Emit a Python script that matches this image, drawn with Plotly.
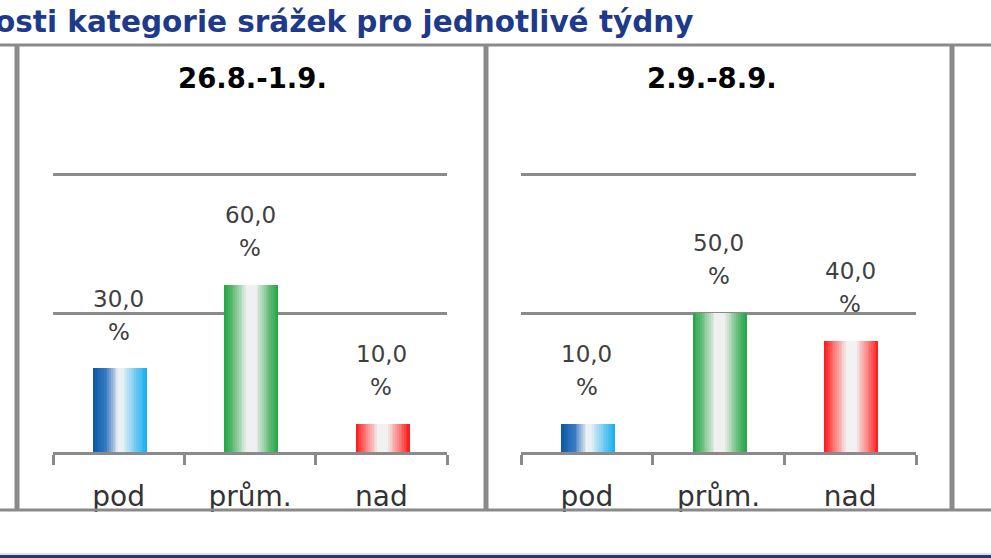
import plotly.graph_objects as go

W, H = 991, 558

# data
nadpis = "osti kategorie srážek pro jednotlivé týdny"
tydny = ["26.8.-1.9.", "2.9.-8.9."]
kategorie = ["pod", "prům.", "nad"]
hodnoty_1 = [30.0, 60.0, 10.0]
hodnoty_2 = [10.0, 50.0, 40.0]

# excel-like gradient stops per category (left edge -> right edge)
prechody = {
    "pod": [(0, "#0c56a6"), (0.25, "#3a7cc2"), (0.47, "#eef1f4"),
            (0.56, "#e4eff6"), (0.8, "#69c8f0"), (1, "#12afef")],
    "prům.": [(0, "#1fa548"), (0.15, "#5cb971"), (0.42, "#f0f0f0"),
              (0.58, "#f0f0f0"), (0.85, "#5cb971"), (1, "#1fa548")],
    "nad": [(0, "#ff1616"), (0.15, "#ff6868"), (0.42, "#f2f2f2"),
            (0.58, "#f2f2f2"), (0.85, "#ff6868"), (1, "#ff1616")],
}

GRAY = "#8a8a8a"
FONT = "DejaVu Sans"


def px(x):
    return x / W


def py(y):
    return 1 - y / H


def hex2rgb(h):
    return tuple(int(h[i:i + 2], 16) for i in (1, 3, 5))


def barva(stops, t):
    for (t0, c0), (t1, c1) in zip(stops, stops[1:]):
        if t0 <= t <= t1:
            f = (t - t0) / (t1 - t0) if t1 > t0 else 0
            a, b = hex2rgb(c0), hex2rgb(c1)
            r = [round(a[k] + (b[k] - a[k]) * f) for k in range(3)]
            return "rgb(%d,%d,%d)" % tuple(r)
    return stops[-1][1]


def cislo(v):
    return f"{v:.1f}".replace(".", ",")


fig = go.Figure()

BW = 0.41
N = 30
panely = [(hodnoty_1, "x", "y"), (hodnoty_2, "x2", "y2")]
for hodnoty, xa, ya in panely:
    for i in range(N):
        t = (i + 0.5) / N
        # slices overlap a bit to avoid seams, the last one ends on the edge
        sirka = BW / N * (1.5 if i < N - 1 else 1.0)
        fig.add_trace(go.Bar(
            x=kategorie, y=hodnoty, xaxis=xa, yaxis=ya,
            width=sirka, offset=-BW / 2 + i * BW / N + 0.01,
            marker=dict(color=[barva(prechody[k], t) for k in kategorie],
                        line=dict(width=0)),
            hoverinfo="skip", showlegend=False,
        ))
    for k, v in zip(kategorie, hodnoty):
        fig.add_annotation(x=k, y=v, xref=xa, yref=ya, text=cislo(v),
                           showarrow=False, yshift=70,
                           font=dict(family=FONT, size=23, color="#404040"))
        fig.add_annotation(x=k, y=v, xref=xa, yref=ya, text="%",
                           showarrow=False, yshift=37,
                           font=dict(family=FONT, size=23, color="#404040"))

# 0 at y=452 px, 100 at y=174 px; range a bit above 100 so the top grid shows
YMAX = 101
ydom = [py(452), py(452 - 2.78 * YMAX)]
osa_x = dict(type="category", categoryorder="array", categoryarray=kategorie,
             range=[-0.5, 2.5], showline=True, linecolor=GRAY, linewidth=2.5,
             ticks="outside", ticklen=10, tickwidth=2.5, tickcolor=GRAY,
             tickson="boundaries", showgrid=False, fixedrange=True,
             tickfont=dict(family=FONT, size=28, color="#333333"),
             ticklabelstandoff=18)
osa_y = dict(range=[0, YMAX], tickvals=[50, 100], showgrid=True,
             gridcolor=GRAY, gridwidth=2.5, zeroline=False,
             showticklabels=False, showline=False, ticks="", domain=ydom,
             fixedrange=True)

fig.update_layout(
    width=W, height=H, margin=dict(l=0, r=0, t=0, b=0),
    paper_bgcolor="white", plot_bgcolor="white", barmode="overlay",
    bargap=0, showlegend=False,
    xaxis=dict(osa_x, domain=[px(53), px(447)], anchor="y"),
    yaxis=dict(osa_y, anchor="x"),
    xaxis2=dict(osa_x, domain=[px(521), px(916)], anchor="y2"),
    yaxis2=dict(osa_y, anchor="x2"),
    xaxis3=dict(type="linear", domain=[px(988), 1], anchor="y3",
                range=[-0.5, -0.5 + 3 / 131.5], showline=True,
                linecolor=GRAY, linewidth=2.5, ticks="outside", ticklen=10,
                tickwidth=2.5, tickcolor=GRAY, tickvals=[-0.5],
                showticklabels=False, showgrid=False, zeroline=False),
    yaxis3=dict(osa_y, anchor="x3"),
)

# chart title (cut on the left like in the screenshot)
fig.add_annotation(x=px(-7), y=py(22), xref="paper", yref="paper",
                   xanchor="left", yanchor="middle", showarrow=False,
                   text="<b>" + nadpis + "</b>",
                   font=dict(family=FONT, size=29.5, color="#1e3a8a"))

# panel titles
for tyden, cx in zip(tydny, [252, 712]):
    fig.add_annotation(x=px(cx), y=py(78), xref="paper", yref="paper",
                       xanchor="center", yanchor="middle",
                       showarrow=False, text="<b>" + tyden + "</b>",
                       font=dict(family=FONT, size=27.5, color="black"))

# panel frames
tvary = [
    dict(type="rect", x0=0, x1=1, y0=py(558), y1=py(512),
         fillcolor="white", line=dict(width=0)),
    dict(type="rect", x0=0, x1=1, y0=py(558), y1=py(555),
         fillcolor="#1f3a7c", line=dict(width=0)),
    dict(type="line", x0=0, x1=1, y0=py(554), y1=py(554),
         line=dict(color="#b8c2d8", width=1)),
    dict(type="line", x0=0, x1=1, y0=py(45), y1=py(45),
         line=dict(color=GRAY, width=3)),
    dict(type="line", x0=0, x1=1, y0=py(510), y1=py(510),
         line=dict(color=GRAY, width=3)),
]
for xv in [17, 486, 952]:
    tvary.append(dict(type="line", x0=px(xv), x1=px(xv), y0=py(45),
                      y1=py(510), line=dict(color=GRAY, width=5)))
for s in tvary:
    fig.add_shape(s, xref="paper", yref="paper", layer="above")

fig.write_html("out.html", config={"displayModeBar": False},
               post_script="document.body.style.margin='0';")
